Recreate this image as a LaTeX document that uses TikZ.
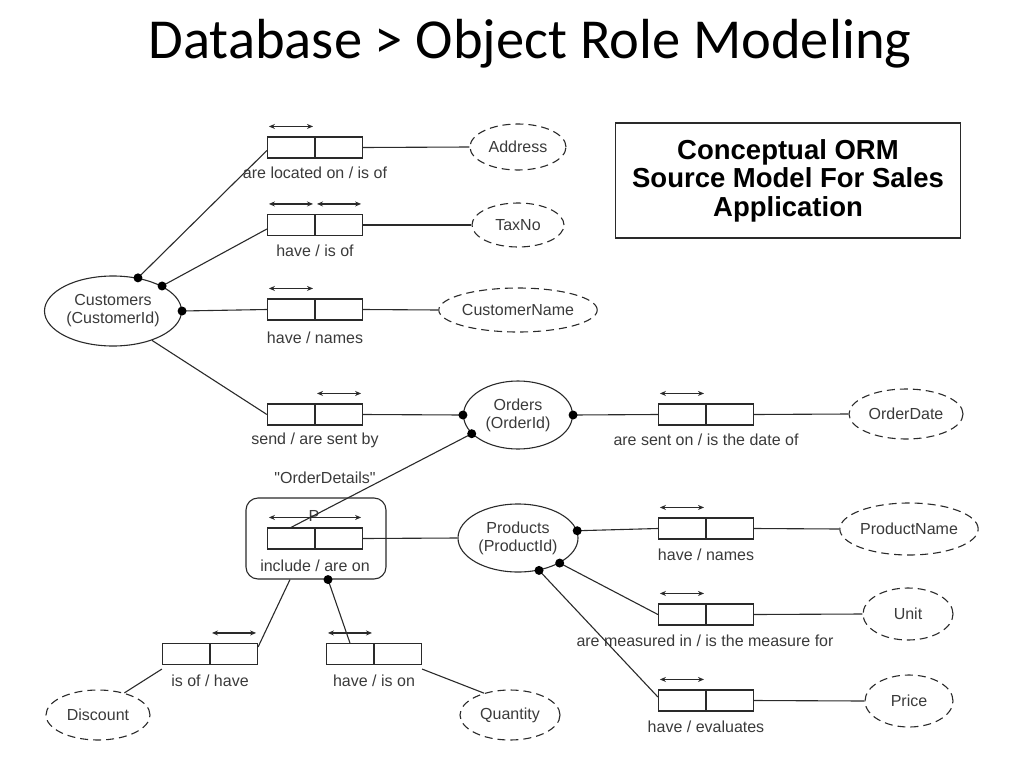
\documentclass[tikz,border=0pt]{standalone}
\usepackage{fontspec}
\setmainfont{Liberation Sans}
\newfontfamily\titlefont{Carlito}
\newfontfamily\rawfont{Liberation Sans}[Ligatures=TeXOff]
\usetikzlibrary{shapes.geometric,arrows.meta,positioning}
\definecolor{ink}{HTML}{2A2A2A}
\definecolor{txt}{HTML}{3A3A3A}
\tikzset{
  every node/.style={font=\fontsize{16}{18}\selectfont, text=txt},
  ln/.style={draw=ink, line width=1.1pt},
  cell/.style={draw=ink, line width=1.1pt, rectangle, minimum width=47pt, minimum height=21pt, inner sep=0pt},
  entity/.style={draw=ink, line width=1.1pt, ellipse, inner sep=0pt, align=center},
  valuetype/.style={draw=ink, line width=1.1pt, ellipse, dash pattern=on 8pt off 5pt, inner sep=0pt},
  uc/.style={draw=ink, line width=1.1pt, {Stealth[length=6pt,width=5pt]}-{Stealth[length=6pt,width=5pt]}},
  dot/.style={circle, fill=black, inner sep=0pt, minimum size=9pt},
  lbl/.style={inner sep=0pt},
}
\newcommand{\facttype}[2]{%
  \node[cell, anchor=east] (#1a) at (#2) {};
  \node[cell, anchor=west] (#1b) at (#2) {};
}
\begin{document}
\begin{tikzpicture}[x=1pt, y=-1pt]
\useasboundingbox (0,0) rectangle (1024,768);

% title
\node[lbl, font=\titlefont\fontsize{56.5}{60}\selectfont, text=black] (title) at (530,44) {Database > Object Role Modeling};

% title box
\node[draw=ink, line width=1.1pt, minimum width=345pt, minimum height=115pt, align=center,
      font=\bfseries\fontsize{27.5}{28.5}\selectfont, text=black] (tbox) at (788,180.5)
  {Conceptual ORM\\Source Model For Sales\\Application};

% entity types
\node[entity, minimum width=137pt, minimum height=70pt] (cust) at (113,311) {Customers\\(CustomerId)};
\node[entity, minimum width=109pt, minimum height=68pt] (orders) at (518,415) {Orders\\(OrderId)};
\node[entity, minimum width=120pt, minimum height=68pt] (prod) at (518,538) {Products\\(ProductId)};

% value types
\node[valuetype, minimum width=96pt, minimum height=46pt] (address) at (518,147) {Address};
\node[valuetype, minimum width=92pt, minimum height=44pt] (taxno) at (518,225) {TaxNo};
\node[valuetype, minimum width=150pt, minimum height=44pt] (custname) at (518,310) {CustomerName};
\node[valuetype, minimum width=114pt, minimum height=50pt] (orderdate) at (906,414) {OrderDate};
\node[valuetype, minimum width=138pt, minimum height=52pt] (prodname) at (909,529) {ProductName};
\node[valuetype, minimum width=90pt, minimum height=52pt] (unit) at (908,614) {Unit};
\node[valuetype, minimum width=88pt, minimum height=52pt] (price) at (909,701) {Price};
\node[valuetype, minimum width=104pt, minimum height=50pt] (discount) at (98,715) {Discount};
\node[valuetype, minimum width=100pt, minimum height=50pt] (quantity) at (510,715) {Quantity};

% objectified fact type frame
\node[draw=ink, line width=1.1pt, rounded corners=12pt, minimum width=140pt, minimum height=81pt] (od) at (316,538.5) {};
\node[lbl, font=\rawfont\fontsize{16}{18}\selectfont] (odname) at (325,478) {"OrderDetails"};

% fact types
\facttype{f1}{315,147.5}
\facttype{f2}{315,225}
\facttype{f3}{315,309.5}
\facttype{f4}{315,414.5}
\facttype{f5}{706,414.5}
\facttype{f6}{315,538.5}
\facttype{f7}{706,528.5}
\facttype{f8}{706,614.5}
\facttype{f9}{706,700.5}
\facttype{f10}{210,654}
\facttype{f11}{374,654}

% fact type readings
\node[lbl] (r1) at (315,173) {are located on / is of};
\node[lbl] (r2) at (315,251) {have / is of};
\node[lbl] (r3) at (315,338) {have / names};
\node[lbl] (r4) at (315,440) {send / are sent by};
\node[lbl] (r5) at (706,440) {are sent on / is the date of};
\node[lbl] (r6) at (315,566) {include / are on};
\node[lbl] (r7) at (706,555) {have / names};
\node[lbl] (r8) at (705,641) {are measured in / is the measure for};
\node[lbl] (r9) at (706,727) {have / evaluates};
\node[lbl] (r10) at (210,681) {is of / have};
\node[lbl] (r11) at (374,681) {have / is on};

% uniqueness constraints
\draw[uc] ([xshift=2pt,yshift=10pt]f1a.north west) -- ([xshift=-2pt,yshift=10pt]f1a.north east);
\draw[uc] ([xshift=2pt,yshift=10pt]f2a.north west) -- ([xshift=-2pt,yshift=10pt]f2a.north east);
\draw[uc] ([xshift=2pt,yshift=10pt]f2b.north west) -- ([xshift=-2pt,yshift=10pt]f2b.north east);
\draw[uc] ([xshift=2pt,yshift=10pt]f3a.north west) -- ([xshift=-2pt,yshift=10pt]f3a.north east);
\draw[uc] ([xshift=2pt,yshift=10pt]f4b.north west) -- ([xshift=-2pt,yshift=10pt]f4b.north east);
\draw[uc] ([xshift=2pt,yshift=10pt]f5a.north west) -- ([xshift=-2pt,yshift=10pt]f5a.north east);
\draw[uc] ([xshift=2pt,yshift=10pt]f6a.north west) -- ([xshift=-2pt,yshift=10pt]f6b.north east);
\node[lbl] (pref) at (314,516) {P};
\draw[uc] ([xshift=2pt,yshift=10pt]f7a.north west) -- ([xshift=-2pt,yshift=10pt]f7a.north east);
\draw[uc] ([xshift=2pt,yshift=10pt]f8a.north west) -- ([xshift=-2pt,yshift=10pt]f8a.north east);
\draw[uc] ([xshift=2pt,yshift=10pt]f9a.north west) -- ([xshift=-2pt,yshift=10pt]f9a.north east);
\draw[uc] ([xshift=2pt,yshift=10pt]f10b.north west) -- ([xshift=-2pt,yshift=10pt]f10b.north east);
\draw[uc] ([xshift=2pt,yshift=10pt]f11a.north west) -- ([xshift=-2pt,yshift=10pt]f11a.north east);

% connectors
\draw[ln] (cust.53) -- ([yshift=-3pt]f1a.west);
\draw[ln] (cust.27.6) -- ([yshift=-4pt]f2a.west);
\draw[ln] (cust.east) -- (f3a.west);
\draw[ln] (cust.-37) -- (f4a.west);
\draw[ln] (f1b.east) -- (address.west);
\draw[ln] (f2b.east) -- (taxno.west);
\draw[ln] (f3b.east) -- (custname.west);
\draw[ln] (f4b.east) -- (orders.west);
\draw[ln] (orders.east) -- (f5a.west);
\draw[ln] (f5b.east) -- (orderdate.west);
\draw[ln] (orders.202) -- (f6a.north);
\draw[ln] (f6b.east) -- (prod.west);
\draw[ln] (prod.7) -- (f7a.west);
\draw[ln] (f7b.east) -- (prodname.west);
\draw[ln] (prod.-31) -- (f8a.west);
\draw[ln] (f8b.east) -- (unit.west);
\draw[ln] (prod.-57) -- ([yshift=3.5pt]f9a.west);
\draw[ln] (f9b.east) -- (price.west);
\draw[ln] ([xshift=-26pt]od.south) -- ([yshift=-4pt]f10b.north east);
\draw[ln] ([yshift=-4pt]f10a.south west) -- (discount.40);
\draw[ln] ([xshift=12pt]od.south) -- (f11a.north);
\draw[ln] ([yshift=-4pt]f11b.south east) -- (quantity.140);

% mandatory role dots
\node[dot] (d1) at (cust.53) {};
\node[dot] (d2) at (cust.27.6) {};
\node[dot] (d3) at (cust.east) {};
\node[dot] (d4) at (orders.west) {};
\node[dot] (d5) at (orders.east) {};
\node[dot] (d6) at (orders.202) {};
\node[dot] (d7) at (prod.7) {};
\node[dot] (d8) at (prod.-31) {};
\node[dot] (d9) at (prod.-57) {};
\node[dot] (d10) at ([xshift=12pt]od.south) {};
\end{tikzpicture}
\end{document}
